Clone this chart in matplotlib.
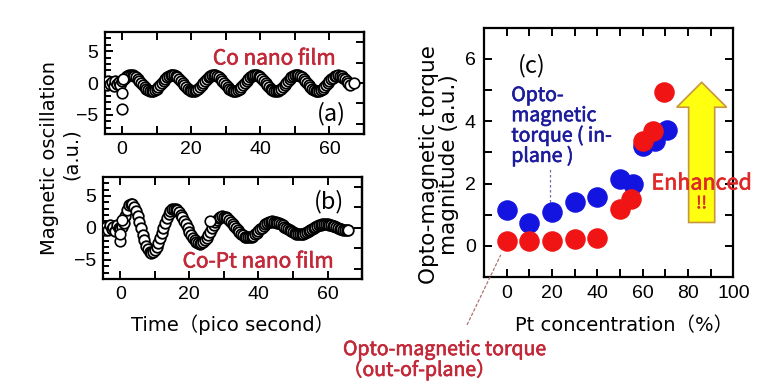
import numpy as np
import matplotlib.pyplot as plt
from matplotlib import patheffects
from matplotlib.patches import FancyArrow
from matplotlib.ticker import MultipleLocator

# ---- (a) Co nano film: magnetic oscillation vs time (ps) ----
t_pre = np.arange(-5, 0, 0.5)
t_main = np.arange(0, 66.5, 0.5)

co_pre = [0.1, -0.3, 0.35, -0.2, 0.15, -0.4, 0.3, -0.15, 0.2, -0.35]
co_main = [
    0.34, 0.65, 0.92, 1.13, 1.26, 1.3, 1.26, 1.13, 0.92, 0.65, 0.34, 0.0,
    -0.34, -0.65, -0.92, -1.13, -1.26, -1.3, -1.26, -1.13, -0.92, -0.65, -0.34, 0.0,
    0.32, 0.66, 0.94, 1.12, 1.28, 1.31, 1.25, 1.12, 0.9, 0.63, 0.35, 0.02,
    -0.33, -0.67, -0.93, -1.15, -1.27, -1.32, -1.24, -1.1, -0.9, -0.64, -0.32, 0.01,
    0.35, 0.64, 0.9, 1.14, 1.25, 1.29, 1.27, 1.14, 0.93, 0.66, 0.33, -0.02,
    -0.35, -0.64, -0.9, -1.12, -1.25, -1.31, -1.27, -1.14, -0.93, -0.66, -0.35, -0.01,
    0.33, 0.63, 0.91, 1.12, 1.24, 1.28, 1.24, 1.11, 0.9, 0.64, 0.33, 0.01,
    -0.32, -0.63, -0.91, -1.12, -1.24, -1.29, -1.25, -1.12, -0.91, -0.64, -0.33, 0.0,
    0.32, 0.62, 0.89, 1.1, 1.22, 1.26, 1.22, 1.1, 0.89, 0.62, 0.32, 0.0,
    -0.32, -0.62, -0.89, -1.1, -1.22, -1.26, -1.22, -1.1, -0.89, -0.62, -0.32, 0.0,
    0.31, 0.6, 0.86, 1.06, 1.18, 1.22, 1.18, 1.06, 0.86, 0.6, 0.31, 0.02, -0.3,
]
co_extra_t = [0.0, 0.0, 0.3, 67.0]
co_extra_y = [-1.5, -4.1, 0.6, 0.0]

# ---- (b) Co-Pt nano film ----
copt_pre = [0.3, -0.4, 0.2, -0.3, 0.5, -0.2, 0.1, -0.5, 0.4, -0.1]
copt_main = [
    -0.2, 0.07, 0.8, 1.8, 2.8, 3.53, 3.8,
    3.67, 3.28, 2.67, 1.88, 0.95, -0.05, -1.05, -1.98, -2.77, -3.38, -3.77, -3.9,
    -3.8, -3.5, -3.03, -2.41, -1.67, -0.86, -0.04, 0.77, 1.51, 2.13, 2.6, 2.9, 3.0,
    2.94, 2.76, 2.47, 2.09, 1.63, 1.1, 0.54, -0.04, -0.6, -1.13, -1.59, -1.97, -2.26, -2.44, -2.5,
    -2.44, -2.25, -1.96, -1.57, -1.11, -0.61, -0.09, 0.41, 0.87, 1.26, 1.55, 1.74, 1.8,
    1.76, 1.66, 1.48, 1.25, 0.98, 0.66, 0.32, -0.02, -0.36, -0.68, -0.95, -1.18, -1.36, -1.46, -1.5,
    -1.47, -1.38, -1.23, -1.03, -0.79, -0.53, -0.25, 0.03, 0.29, 0.53, 0.73, 0.88, 0.97, 1.0,
    0.98, 0.92, 0.83, 0.71, 0.56, 0.38, 0.2, 0.0, -0.2, -0.38, -0.56, -0.71, -0.83, -0.92, -0.98, -1.0,
    -0.98, -0.92, -0.83, -0.7, -0.55, -0.38, -0.2, -0.02, 0.15, 0.3, 0.43, 0.52, 0.58, 0.6,
    0.59, 0.55, 0.49, 0.41, 0.32, 0.21, 0.1, -0.01, -0.12, -0.21, -0.29, -0.35, -0.39, -0.4,
]
copt_extra_t = [0.0, 0.0, 0.4, 26.0]
copt_extra_y = [-2.0, -1.0, 1.3, 1.0]

# ---- (c) torque magnitude vs Pt concentration (%) ----
pt_in = [0, 10, 20, 30, 40, 50, 55.5, 60, 65.5, 70.5]
torque_in = [1.14, 0.74, 1.08, 1.41, 1.57, 2.13, 1.97, 3.2, 3.36, 3.73]
pt_out = [0, 10, 20, 30, 40, 50, 55, 60, 64.7, 69.5]
torque_out = [0.15, 0.15, 0.15, 0.23, 0.26, 1.19, 1.5, 3.36, 3.68, 4.93]

RED_TXT = "#c22838"
BLUE_TXT = "#1c1c9c"
JP = ["Noto Sans CJK JP", "DejaVu Sans"]
LBL = ["DejaVu Sans", "Noto Sans CJK JP"]


def semi(color, lw=0.45):
    # fake a medium weight
    return [patheffects.withStroke(linewidth=lw, foreground=color)]


plt.rcParams["font.family"] = ["Liberation Sans", "DejaVu Sans"]
plt.rcParams["axes.linewidth"] = 1.6

fig = plt.figure(figsize=(7.6, 3.81), dpi=100)
ax_a = fig.add_axes([0.138, 0.648, 0.341, 0.268])
ax_b = fig.add_axes([0.1355, 0.268, 0.341, 0.268])
ax_c = fig.add_axes([0.637, 0.273, 0.328, 0.654])


def style_osc(ax):
    ax.set_xlim(-5, 70)
    ax.set_ylim(-8, 8)
    ax.xaxis.set_major_locator(MultipleLocator(20))
    ax.xaxis.set_minor_locator(MultipleLocator(10))
    ax.set_yticks([-5, 0, 5])
    ax.yaxis.set_minor_locator(MultipleLocator(1))
    ax.tick_params(which="both", direction="in", top=True, right=False,
                   labelsize=14, width=1.4, pad=5)
    ax.tick_params(which="major", length=6)
    ax.tick_params(which="minor", length=4)
    ax.tick_params(axis="x", which="minor", length=6)
    sec = ax.secondary_yaxis("right")
    sec.set_yticks([-6.4, -3.2, 0, 3.2, 6.4])
    sec.tick_params(direction="in", length=6, width=1.4, labelright=False)


for ax, pre, main, et, ey in [
    (ax_a, co_pre, co_main, co_extra_t, co_extra_y),
    (ax_b, copt_pre, copt_main, copt_extra_t, copt_extra_y),
]:
    ax.scatter(t_pre, pre, s=58, facecolors="white", edgecolors="black", linewidths=1.3, zorder=3)
    ax.scatter(t_main, main, s=58, facecolors="white", edgecolors="black", linewidths=1.3, zorder=3)
    ax.scatter(et, ey, s=58, facecolors="white", edgecolors="black", linewidths=1.2, zorder=4)
    style_osc(ax)

ax_a.text(0.89, 0.74, "Co nano film", transform=ax_a.transAxes, ha="right", va="center",
          color=RED_TXT, fontsize=15, family=JP, path_effects=semi(RED_TXT))
ax_a.text(0.93, 0.2, "(a)", transform=ax_a.transAxes, ha="right", va="center",
          fontsize=17, family=JP)
ax_b.text(0.93, 0.76, "(b)", transform=ax_b.transAxes, ha="right", va="center",
          fontsize=17, family=JP)
ax_b.text(0.89, 0.17, "Co-Pt nano film", transform=ax_b.transAxes, ha="right", va="center",
          color=RED_TXT, fontsize=15, family=JP, path_effects=semi(RED_TXT))
ax_b.set_xlabel("Time（pico second）", fontsize=14, family=LBL, labelpad=8)
fig.text(50 / 760, 1 - 158 / 381, "Magnetic oscillation", rotation=90, ha="center",
         va="center", fontsize=14, family=LBL)
fig.text(71 / 760, 1 - 154 / 381, "(a.u.)", rotation=90, ha="center",
         va="center", fontsize=14, family=LBL)

# (c)
ax_c.scatter(pt_in, torque_in, s=190, color="#1414e0", zorder=3)
ax_c.scatter(pt_out, torque_out, s=190, color="#f01414", zorder=4)
ax_c.set_xlim(-10, 100)
ax_c.set_ylim(-1, 7)
ax_c.xaxis.set_major_locator(MultipleLocator(20))
ax_c.xaxis.set_minor_locator(MultipleLocator(10))
ax_c.yaxis.set_major_locator(MultipleLocator(2))
ax_c.yaxis.set_minor_locator(MultipleLocator(1))
ax_c.tick_params(which="both", direction="in", top=True, right=True,
                 labelsize=14, width=1.4, length=6, pad=6)
ax_c.set_xlabel("Pt concentration（%）", fontsize=14, family=LBL, labelpad=10, x=0.56)
ax_c.set_ylabel("Opto-magnetic torque\nmagnitude (a.u.)", fontsize=15.5, family=LBL,
                linespacing=1.0, labelpad=4, y=0.45)
ax_c.text(0.135, 0.85, "(c)", transform=ax_c.transAxes, fontsize=17, family=JP, va="center")

ax_c.text(2, 3.85, "Opto-\nmagnetic\ntorque ( in-\nplane )", color=BLUE_TXT, fontsize=14,
          family=JP, va="center", ha="left", linespacing=0.95, path_effects=semi(BLUE_TXT))
ax_c.plot([19, 19], [1.4, 2.5], color="#6a6ab0", lw=0.9, ls=(0, (2, 2)))

arrow = FancyArrow(86, 0.75, 0, 4.5, width=11.5, head_width=22, head_length=0.8,
                   length_includes_head=True, facecolor="#ffff10", edgecolor="#c8963c",
                   linewidth=1.2, zorder=2)
ax_c.add_patch(arrow)
ax_c.text(86, 2.0, "Enhanced", color="#e02828", fontsize=15.5, family=JP,
          ha="center", va="center", zorder=5, clip_on=False, path_effects=semi("#e02828"))
ax_c.text(86, 1.35, "!!", color="#e02828", fontsize=12, family=JP,
          ha="center", va="center", zorder=5, path_effects=semi("#e02828", 0.4))

ax_c.annotate("", xy=(-2.2, -0.22), xycoords="data",
              xytext=(466 / 760, 1 - 327 / 381), textcoords="figure fraction",
              arrowprops=dict(arrowstyle="-", color="#b07070", lw=0.9, ls=(0, (2, 2))),
              annotation_clip=False)
fig.text(343 / 760, 1 - 360 / 381, "Opto-magnetic torque\n（out-of-plane）", color=RED_TXT,
         fontsize=14, family=JP, ha="left", va="center", linespacing=0.95,
         path_effects=semi(RED_TXT))

fig.savefig("out.png", dpi=100, facecolor="white")
